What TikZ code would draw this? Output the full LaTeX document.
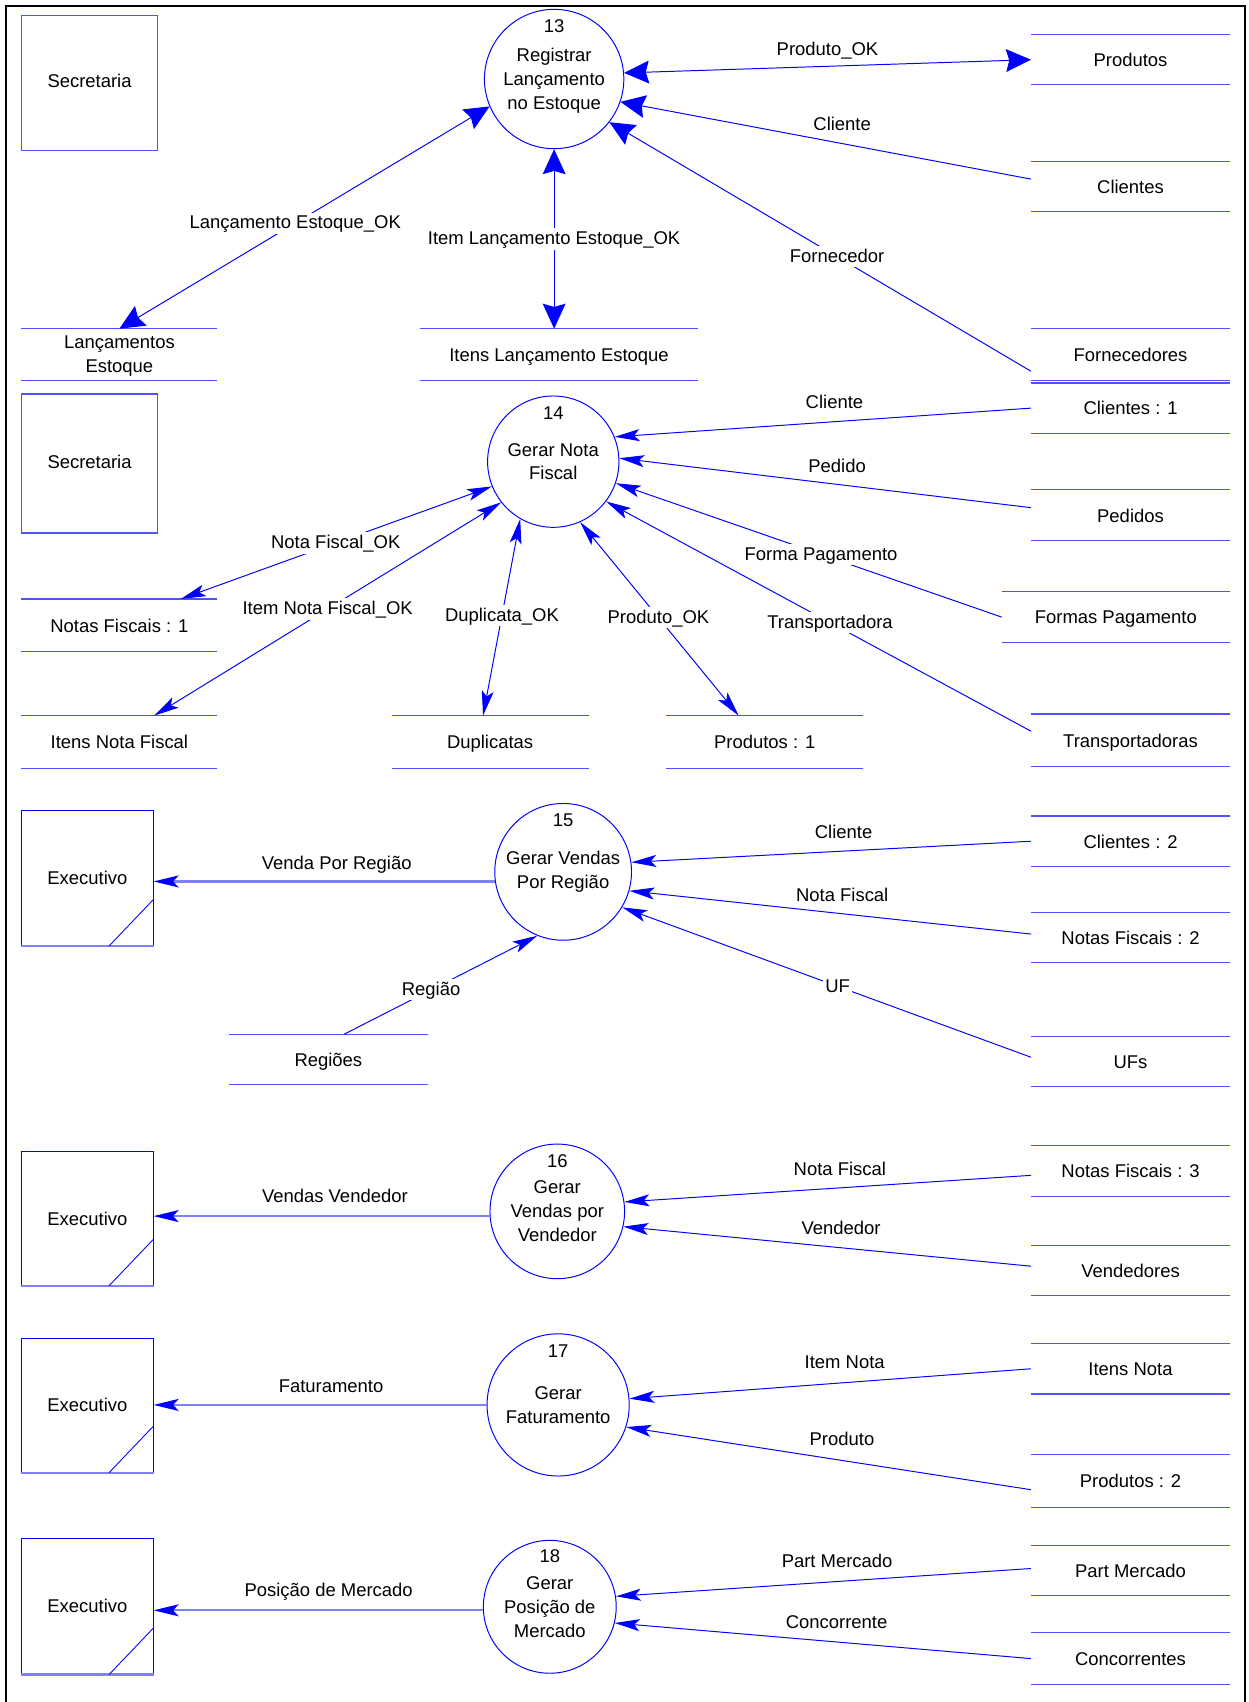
\documentclass[tikz,border=0pt]{standalone}
\usepackage{fontspec}
\setmainfont{Liberation Sans}
\usetikzlibrary{arrows.meta,calc}

\definecolor{dfdblue}{RGB}{0,0,255}
\definecolor{storeblue}{RGB}{80,80,255}
\definecolor{outblue}{RGB}{128,128,255}

\begin{document}
\begin{tikzpicture}[x=1pt,y=-1pt,
  font=\fontsize{17}{22}\selectfont,
  process/.style={circle, draw=dfdblue, line width=0.9pt, inner sep=0pt, align=center},
  pnum/.style={inner sep=0pt},
  entity/.style={draw=storeblue, line width=1.1pt, inner sep=0pt, minimum width=125pt, minimum height=125pt, text height=10pt, text depth=1.7pt},
  execbox/.style={draw=dfdblue, line width=1pt, inner sep=0pt, minimum width=121pt, minimum height=124pt},
  store/.style={inner sep=0pt, minimum width=183pt, minimum height=46pt, text height=14pt, text depth=1.5pt},
  storetwo/.style={inner sep=0pt, align=center, minimum width=180pt, minimum height=47pt},
  storeline/.style={draw=storeblue, line width=1.05pt},
  slash/.style={draw=dfdblue, line width=0.8pt},
  flow/.style={draw=dfdblue, line width=0.9pt, >={Stealth[length=23pt,width=11pt,inset=5pt]}},
  bigflow/.style={draw=dfdblue, line width=0.9pt, >={Stealth[length=23pt,width=21pt,inset=3pt]}},
  outflow/.style={draw=outblue, line width=2pt, -{Stealth[length=23pt,width=11pt,inset=5pt,color=dfdblue]}},
  lbl/.style={inner sep=1pt, text height=13pt, text depth=2.5pt},
  onlbl/.style={lbl, fill=white, inner sep=2pt},
]
\useasboundingbox (0,0) rectangle (1150,1568);

% outer frame
\draw[black, line width=1.8pt] (5.5,5.5) rectangle (1147,1580);

% ---------- external entities ----------
\node[entity] (sec1) at (82.5,76.5) {Secretaria};
\node[entity, minimum height=128pt] (sec2) at (82.5,427) {Secretaria};
\node[execbox] (exec1) at (80.5,809) {Executivo};
\node[execbox, minimum height=123pt] (exec2) at (80.5,1122.5) {Executivo};
\node[execbox, minimum height=123.4pt] (exec3) at (80.5,1294.5) {Executivo};
\node[execbox, minimum height=125pt] (exec4) at (80.5,1479.7) {Executivo};
\foreach \e in {exec1,exec2,exec3,exec4} {
  \draw[draw=outblue, line width=2pt] (\e.south west) -- (\e.south east);
  \draw[slash] ($(\e.south east)+(0,-43)$) -- ($(\e.south east)+(-41,0)$);
}

% ---------- processes ----------
\node[process, minimum size=128.4pt] (p13) at (510.5,72.8) {\rule{0pt}{15pt}Registrar\\Lançamento\\no Estoque};
\node[process, minimum size=121pt] (p14) at (509.7,425.3) {Gerar Nota\\Fiscal};
\node[process, minimum size=126pt] (p15) at (518.8,803.2) {Gerar Vendas\\Por Região};
\node[process, minimum size=124pt] (p16) at (513.4,1116) {Gerar\\Vendas por\\Vendedor};
\node[process, minimum size=131pt] (p17) at (514.2,1294.3) {Gerar\\Faturamento};
\node[process, minimum size=122.4pt] (p18) at (506.5,1480.3) {Gerar\\Posição de\\Mercado};
\node[pnum] (n13) at ($(p13.north)+(0,16)$) {13};
\node[pnum] (n14) at ($(p14.north)+(0,16)$) {14};
\node[pnum] (n15) at ($(p15.north)+(0,16)$) {15};
\node[pnum] (n16) at ($(p16.north)+(0,16)$) {16};
\node[pnum] (n17) at ($(p17.north)+(0,16)$) {17};
\node[pnum] (n18) at ($(p18.north)+(0,15)$) {18};

% ---------- data stores ----------
\node[store] (produtos) at (1041.5,55) {Produtos};
\node[store] (clientes) at (1041.5,172) {Clientes};
\node[store, minimum height=47pt] (fornecedores) at (1041.5,326.5) {Fornecedores};
\node[storetwo] (lancest) at (110,326.5) {\rule{0pt}{14pt}Lançamentos\\Estoque};
\node[store, minimum width=256pt, minimum height=47pt] (itenslanc) at (515,326.5) {Itens Lançamento Estoque};
\node[store] (clientes1) at (1041.5,376) {Clientes : 1};
\node[store, minimum height=46.5pt] (pedidos) at (1041.5,474.7) {Pedidos};
\node[store, minimum width=210pt] (formas) at (1028,568.5) {Formas Pagamento};
\node[store, minimum height=48pt] (transp) at (1041.5,682) {Transportadoras};
\node[store, minimum width=180pt, minimum height=48pt] (notas1) at (110,576) {Notas Fiscais : 1};
\node[store, minimum width=180pt, minimum height=48pt] (itensnf) at (110,683.5) {Itens Nota Fiscal};
\node[store, minimum width=181pt, minimum height=48pt] (duplicatas) at (451.5,683.5) {Duplicatas};
\node[store, minimum width=181pt, minimum height=48pt] (produtos1) at (704.5,683.5) {Produtos : 1};
\node[store] (clientes2) at (1041.5,775) {Clientes : 2};
\node[store] (notas2) at (1041.5,863.5) {Notas Fiscais : 2};
\node[store] (ufs) at (1041.5,978) {UFs};
\node[store] (regioes) at (302.5,976) {Regiões};
\node[store] (notas3) at (1041.5,1078.8) {Notas Fiscais : 3};
\node[store] (vendedores) at (1041.5,1170.5) {Vendedores};
\node[store] (itensnota) at (1041.5,1261) {Itens Nota};
\node[store, minimum height=48pt] (produtos2) at (1041.5,1364.4) {Produtos : 2};
\node[store] (partmerc) at (1041.5,1447) {Part Mercado};
\node[store, minimum height=48pt] (concorr) at (1041.5,1528) {Concorrentes};
\foreach \s in {produtos,clientes,fornecedores,lancest,itenslanc,clientes1,pedidos,formas,transp,
                notas1,itensnf,duplicatas,produtos1,clientes2,notas2,ufs,regioes,notas3,
                vendedores,itensnota,produtos2,partmerc,concorr}
  \draw[storeline] (\s.north west) -- (\s.north east) (\s.south west) -- (\s.south east);

% ---------- flows of process 13 ----------
\draw[bigflow,<->] (p13.5) -- (produtos.west) node[lbl,pos=.5,yshift=15.6pt]{Produto\_OK};
\draw[bigflow,<-] (p13.-19) -- ($(clientes.west)+(0,-7)$) node[lbl,pos=.54,yshift=17.5pt]{Cliente};
\draw[bigflow,<-] (p13.-38) -- ($(fornecedores.west)+(0,15.5)$) node[onlbl,pos=.54]{Fornecedor};
\draw[bigflow,<->] (p13.203) -- (lancest.north) node[onlbl,pos=.525]{Lançamento Estoque\_OK};
\draw[bigflow,<->] (p13.south) -- (p13.south |- itenslanc.north) node[onlbl,pos=.5]{Item Lançamento Estoque\_OK};

% ---------- flows of process 14 ----------
\draw[flow,<-] (p14.22) -- (clientes1.west) node[lbl,pos=.528,yshift=17.1pt]{Cliente};
\draw[flow,<-] (p14.3) -- ($(pedidos.west)+(0,-7)$) node[lbl,pos=.529,yshift=16.4pt]{Pedido};
\draw[flow,<-] (p14.-19) -- (formas.west) node[onlbl,pos=.532]{Forma Pagamento};
\draw[flow,<-] (p14.-37) -- ($(transp.west)+(0,-8.4)$) node[onlbl,pos=.527]{Transportadora};
\draw[flow,<->] (p14.-66) -- ($(produtos1.north)+(-24,0)$) node[onlbl,pos=.494]{Produto\_OK};
\draw[flow,<->] (p14.-120) -- ($(duplicatas.north)+(-6.5,0)$) node[onlbl,pos=.491]{Duplicata\_OK};
\draw[flow,<->] (p14.218) -- ($(itensnf.north)+(32,0)$) node[onlbl,pos=.5]{Item Nota Fiscal\_OK};
\draw[flow,<->] (p14.202) -- ($(notas1.north)+(56.6,0)$) node[onlbl,pos=.502]{Nota Fiscal\_OK};

% ---------- flows of process 15 ----------
\draw[outflow] (p15.188) -- (p15.188 -| exec1.east) node[lbl,pos=.4635,yshift=16.5pt]{Venda Por Região};
\draw[flow,<-] (p15.8) -- (clientes2.west) node[lbl,pos=.531,yshift=16.8pt]{Cliente};
\draw[flow,<-] (p15.-16) -- ($(notas2.west)+(0,-3)$) node[lbl,pos=.53,yshift=16.6pt]{Nota Fiscal};
\draw[flow,<-] (p15.-31) -- ($(ufs.west)+(0,-4)$) node[onlbl,pos=.527]{UF};
\draw[flow,<-] (p15.-112) -- ($(regioes.north)+(14.5,0)$) node[onlbl,pos=.55]{Região};

% ---------- flows of process 16 ----------
\draw[outflow] (p16.184) -- (p16.184 -| exec2.east) node[lbl,pos=.4606,yshift=17.6pt]{Vendas Vendedor};
\draw[flow,<-] (p16.8) -- ($(notas3.west)+(0,4)$) node[lbl,pos=.53,yshift=16.4pt]{Nota Fiscal};
\draw[flow,<-] (p16.-13) -- ($(vendedores.west)+(0,-4)$) node[lbl,pos=.534,yshift=17.6pt]{Vendedor};

% ---------- flows of process 17 ----------
\draw[outflow] (p17.west) -- (p17.west -| exec3.east) node[lbl,pos=.467,yshift=16.4pt]{Faturamento};
\draw[flow,<-] (p17.5) -- (itensnota.west) node[lbl,pos=.536,yshift=18.3pt]{Item Nota};
\draw[flow,<-] (p17.-18) -- ($(produtos2.west)+(0,8)$) node[lbl,pos=.533,yshift=19.2pt]{Produto};

% ---------- flows of process 18 ----------
\draw[outflow] (p18.183) -- (p18.183 -| exec4.east) node[lbl,pos=.4686,yshift=17.6pt]{Posição de Mercado};
\draw[flow,<-] (p18.9) -- ($(partmerc.west)+(0,-2)$) node[lbl,pos=.533,yshift=18pt]{Part Mercado};
\draw[flow,<-] (p18.-14) -- (concorr.west) node[lbl,pos=.533,yshift=18pt]{Concorrente};
\end{tikzpicture}
\end{document}
